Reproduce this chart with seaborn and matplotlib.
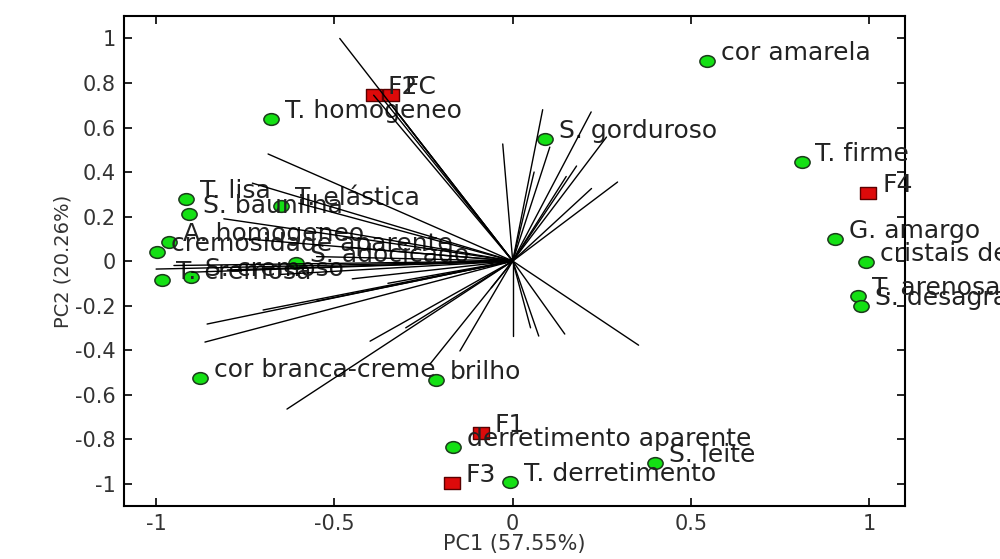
import numpy as np
import pandas as pd
import matplotlib.pyplot as plt
import seaborn as sns
from matplotlib.path import Path
from matplotlib.transforms import Affine2D

# attributes (green circles)
attr_names = ["cor amarela", "T. homogeneo", "S. gorduroso", "T. firme", "T. lisa",
              "S. baunilha", "T. elástica", "A. homogeneo", "cremosidade aparente",
              "S. adocicado", "T. cremosa", "S. cremoso", "cor branca-creme", "brilho",
              "derretimento aparente", "S. leite", "T. derretimento", "G. amargo",
              "cristais de gelo", "T. arenosa", "S. desagradável"]
attr_pc1 = [0.546, -0.678, 0.090, 0.810, -0.916, -0.908, -0.650, -0.964, -0.997,
            -0.608, -0.983, -0.902, -0.877, -0.216, -0.168, 0.398, -0.008, 0.905,
            0.992, 0.969, 0.978]
attr_pc2 = [0.899, 0.638, 0.548, 0.445, 0.279, 0.211, 0.247, 0.085, 0.040,
            -0.009, -0.085, -0.072, -0.526, -0.535, -0.836, -0.908, -0.993, 0.099,
            -0.004, -0.157, -0.202]

# samples (red squares)
sample_names = ["F2", "FC", "F4", "F1", "F3"]
sample_pc1 = [-0.389, -0.342, 0.997, -0.090, -0.171]
sample_pc2 = [0.746, 0.746, 0.306, -0.773, -0.998]

# loading vectors drawn from the origin
load_pc1 = [-0.485, -0.39, -0.36, -0.34, -0.32, -0.686, -0.73, -0.60, -0.81, -0.55,
            -0.75, -0.45, -1.0, -0.95, -0.90, -0.80, -0.65, -0.55, -0.45, -0.35,
            -0.857, -0.863, -0.70, -0.55, -0.633, -0.40, -0.30, -0.232, -0.148, -0.06,
            0.0, 0.073, 0.146, 0.353, 0.05,
            0.084, 0.22, -0.028, 0.104, 0.263, 0.179, 0.221, 0.294, 0.15, 0.06]
load_pc2 = [1.0, 0.745, 0.72, 0.70, 0.66, 0.481, 0.35, 0.26, 0.19, 0.15,
            0.10, 0.06, -0.036, -0.02, -0.05, -0.04, -0.06, 0.02, -0.08, -0.10,
            -0.283, -0.364, -0.22, -0.18, -0.665, -0.36, -0.30, -0.463, -0.404, -0.12,
            -0.337, -0.337, -0.328, -0.378, -0.30,
            0.68, 0.67, 0.526, 0.512, 0.557, 0.427, 0.326, 0.355, 0.38, 0.40]

sns.set_theme(style="ticks")
plt.rcParams['font.family'] = ['DejaVu Sans']

fig = plt.figure(figsize=(10, 5.59), dpi=100)
ax = fig.add_axes([0.124, 0.095, 0.781, 0.876])

for x, y in zip(load_pc1, load_pc2):
    ax.plot([0, x], [0, y], color='black', lw=1, zorder=5)

# wide markers, the source image is stretched horizontally
ellipse = Path.unit_circle().transformed(Affine2D().scale(1.3, 1.0))
rect = Path([(-1.25, -1), (1.25, -1), (1.25, 1), (-1.25, 1), (-1.25, -1)],
            [Path.MOVETO, Path.LINETO, Path.LINETO, Path.LINETO, Path.CLOSEPOLY])

attr_df = pd.DataFrame({"pc1": attr_pc1, "pc2": attr_pc2, "name": attr_names})
sample_df = pd.DataFrame({"pc1": sample_pc1, "pc2": sample_pc2, "name": sample_names})

sns.scatterplot(data=attr_df, x="pc1", y="pc2", ax=ax, marker=ellipse, s=120,
                color='#14e014', edgecolor='#1b3b1b', linewidth=1.1, zorder=3)
sns.scatterplot(data=sample_df, x="pc1", y="pc2", ax=ax, marker=rect, s=125,
                color='#dd0a0a', edgecolor='#5a0000', linewidth=1.0, zorder=3)

for df in (attr_df, sample_df):
    for _, r in df.iterrows():
        ax.annotate(r["name"], (r["pc1"], r["pc2"]), xytext=(10, 6),
                    textcoords='offset points', fontsize=18, va='center',
                    ha='left', color='#222222', zorder=4, annotation_clip=False)

ax.set_xlim(-1.09, 1.1)
ax.set_ylim(-1.1, 1.1)
ax.set_xticks([-1, -0.5, 0, 0.5, 1])
ax.set_xticklabels(["-1", "-0.5", "0", "0.5", "1"])
ax.set_yticks([-1, -0.8, -0.6, -0.4, -0.2, 0, 0.2, 0.4, 0.6, 0.8, 1])
ax.set_yticklabels(["-1", "-0.8", "-0.6", "-0.4", "-0.2", "0", "0.2", "0.4", "0.6", "0.8", "1"])
ax.tick_params(direction='in', top=True, right=True, length=6, width=1.2,
               labelsize=15, colors='black', labelcolor='#333333', pad=6)
for s in ax.spines.values():
    s.set_color('black')
    s.set_linewidth(1.5)

ax.set_xlabel("PC1 (57.55%)", fontsize=15, color='#333333', labelpad=0)
ax.set_ylabel("PC2 (20.26%)", fontsize=14, color='#333333', labelpad=2)

fig.savefig("out.png", dpi=100)
